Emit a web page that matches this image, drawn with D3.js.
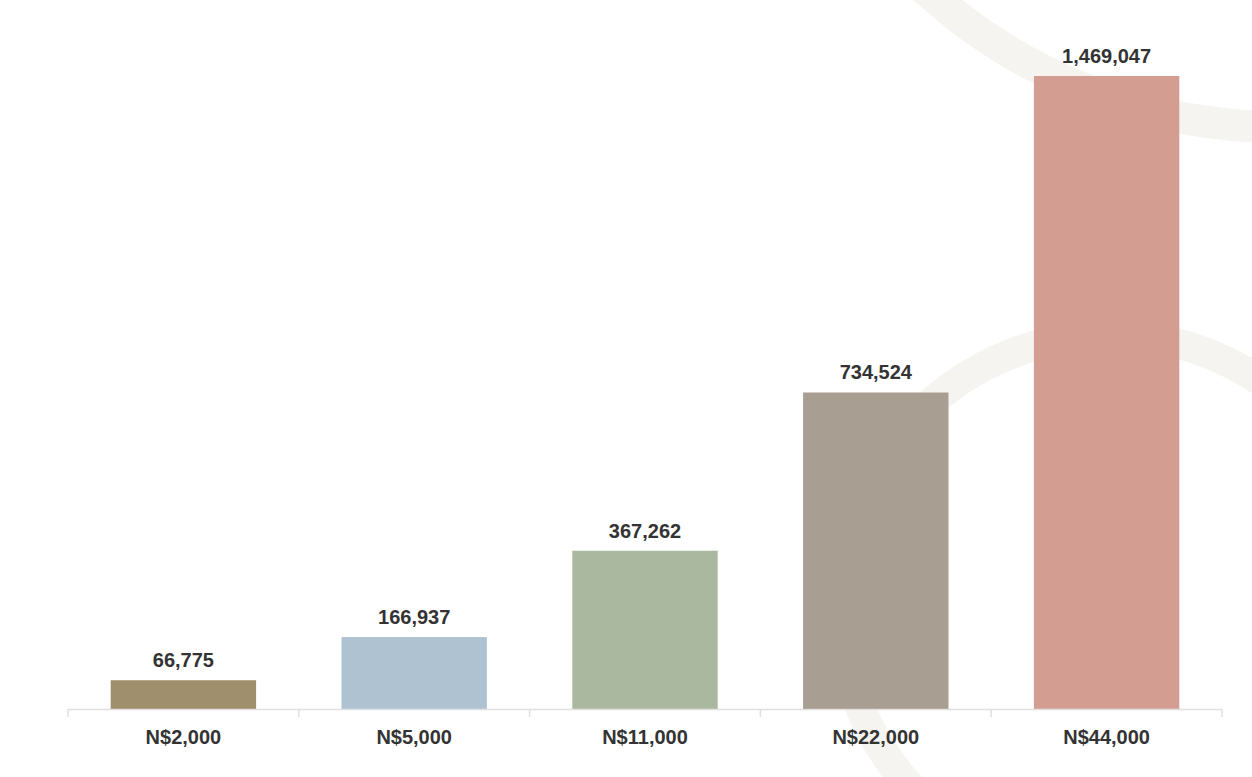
<!DOCTYPE html>
<html><head><meta charset="utf-8">
<script src="https://cdn.jsdelivr.net/npm/d3@7"></script>
<style>body{margin:0;background:#fff}svg{display:block}</style>
</head><body><svg id="c" width="1252" height="777"></svg>
<script>
const categories = ["N$2,000","N$5,000","N$11,000","N$22,000","N$44,000"];
const values = [66775,166937,367262,734524,1469047];
const colors = ["#a08f6d","#afc2d1","#abb8a0","#a89e92","#d39e91"];

const svg = d3.select("#c");
// decorative arcs
svg.append("circle").attr("cx",1280).attr("cy",-398).attr("r",525)
  .attr("fill","none").attr("stroke","#f6f4f1").attr("stroke-width",32);
svg.append("circle").attr("cx",1110).attr("cy",605).attr("r",270)
  .attr("fill","none").attr("stroke","#f6f4f1").attr("stroke-width",30);

const x = d3.scaleBand().domain(categories).range([68,1222]).paddingInner(0.37).paddingOuter(0.185);
const y = d3.scaleLinear().domain([0,d3.max(values)]).range([709,76]);

svg.selectAll("rect.bar").data(values).join("rect").attr("class","bar")
  .attr("x",(d,i)=>x(categories[i])).attr("width",x.bandwidth())
  .attr("y",d=>y(d)).attr("height",d=>y(0)-y(d)).attr("fill",(d,i)=>colors[i]);

svg.selectAll("text.val").data(values).join("text").attr("class","val")
  .attr("x",(d,i)=>x(categories[i])+x.bandwidth()/2).attr("y",d=>y(d)-13)
  .attr("text-anchor","middle").attr("font-family","Liberation Sans, Arial, sans-serif")
  .attr("font-weight","bold").attr("font-size",20).attr("fill","#333")
  .text(d=>d3.format(",")(d));

// axis
const step = x.step();
svg.append("line").attr("x1",68).attr("x2",1222).attr("y1",709.5).attr("y2",709.5).attr("stroke","#e0e0e0").attr("stroke-width",1.5);
const bounds = d3.range(categories.length+1).map(i=>68+i*(1154/categories.length));
svg.selectAll("line.tk").data(bounds).join("line").attr("class","tk")
  .attr("x1",d=>d).attr("x2",d=>d).attr("y1",709).attr("y2",717).attr("stroke","#e0e0e0").attr("stroke-width",1.5);
svg.selectAll("text.cat").data(categories).join("text").attr("class","cat")
  .attr("x",d=>x(d)+x.bandwidth()/2).attr("y",744)
  .attr("text-anchor","middle").attr("font-family","Liberation Sans, Arial, sans-serif")
  .attr("font-weight","bold").attr("font-size",20).attr("fill","#333").text(d=>d);
</script></body></html>
